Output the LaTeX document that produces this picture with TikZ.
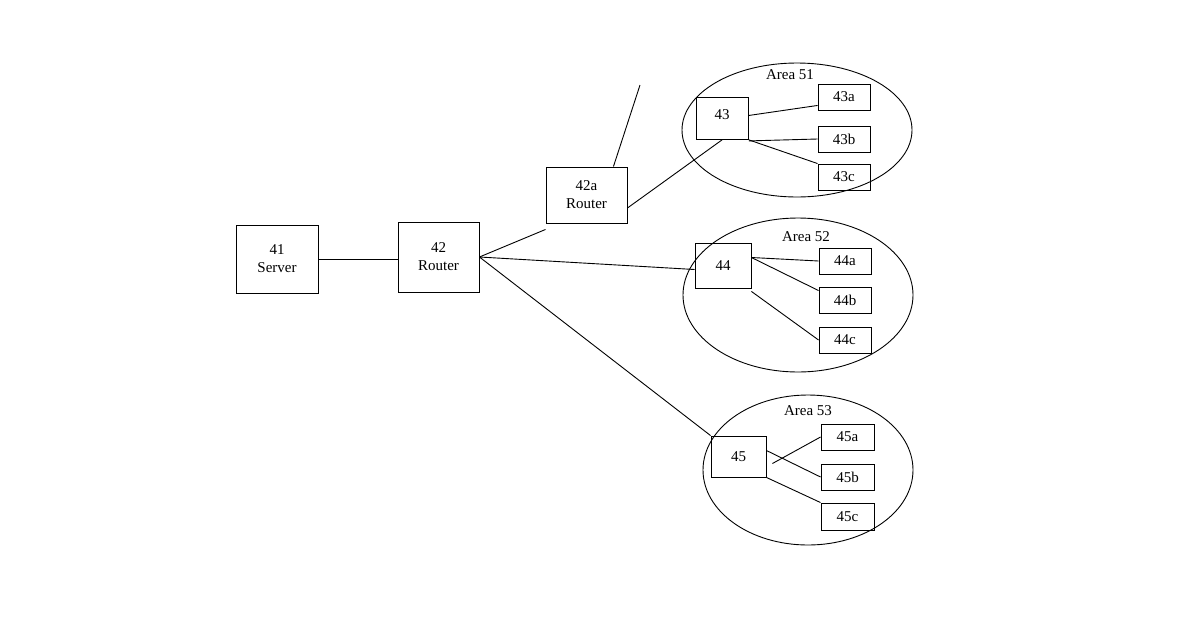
\documentclass[tikz,border=0pt]{standalone}
\usepackage{fontspec}
\setmainfont{Liberation Serif}
\usetikzlibrary{shapes.geometric}
\begin{document}
\begin{tikzpicture}[x=1pt,y=-1pt,
  box/.style={draw,line width=0.9pt,inner sep=0pt,align=center,font=\fontsize{15}{18}\selectfont},
  lbl/.style={font=\fontsize{15}{18}\selectfont},
  ln/.style={line width=0.9pt}]
\useasboundingbox (0,0) rectangle (1200,630);
\node[box,minimum width=82,minimum height=68] (s41) at (277,259) {41\\Server};
\node[box,minimum width=81,minimum height=70] (r42) at (438.5,257) {42\\Router};
\node[box,minimum width=81,minimum height=56] (r42a) at (586.5,195) {42a\\Router};
\coordinate (up) at (640,85);
% Area 51
\node[draw,ln,ellipse,minimum width=230,minimum height=134] (e51) at (797,130) {};
\node[lbl] (a51) at (790,75) {Area 51};
\node[box,minimum width=52,minimum height=42,anchor=north west] (n43) at (696,97) {};
\node[lbl] (t43) at (722,115) {43};
\node[box,minimum width=52,minimum height=26] (n43a) at (844,97) {43a};
\node[box,minimum width=52,minimum height=26] (n43b) at (844,139) {43b};
\node[box,minimum width=52,minimum height=26] (n43c) at (844,177) {43c};
% Area 52
\node[draw,ln,ellipse,minimum width=230,minimum height=154] (e52) at (798,295) {};
\node[lbl] (a52) at (806,237) {Area 52};
\node[box,minimum width=56,minimum height=45] (n44) at (723,265.5) {44};
\node[box,minimum width=52,minimum height=26] (n44a) at (845,261) {44a};
\node[box,minimum width=52,minimum height=26] (n44b) at (845,300) {44b};
\node[box,minimum width=52,minimum height=26] (n44c) at (845,340) {44c};
% Area 53
\node[draw,ln,ellipse,minimum width=210,minimum height=150] (e53) at (808,470) {};
\node[lbl] (a53) at (808,411) {Area 53};
\node[box,minimum width=55,minimum height=41] (n45) at (738.5,456.5) {45};
\node[box,minimum width=53,minimum height=26] (n45a) at (847.5,437) {45a};
\node[box,minimum width=53,minimum height=26] (n45b) at (847.5,477) {45b};
\node[box,minimum width=53,minimum height=27] (n45c) at (847.5,516.5) {45c};
% connectors
\draw[ln] (s41.east) -- (r42.west|-s41.east);
\draw[ln] (r42.east) -- ([yshift=-6]r42a.south west);
\draw[ln] ([xshift=-14]r42a.north east) -- (up);
\draw[ln] ([yshift=-13]r42a.east) -- ([xshift=26]n43.south west);
\draw[ln] ([yshift=3]n43.east) -- ([yshift=5]n43a.south west);
\draw[ln] ([yshift=-1]n43.south east) -- (n43b.west);
\draw[ln] (n43.south east) -- (n43c.north west);
\draw[ln] (r42.east) -- ([yshift=-4]n44.west);
\draw[ln] ([yshift=8]n44.east) -- (n44a.west);
\draw[ln] ([yshift=8]n44.east) -- ([yshift=-4]n44b.north west);
\draw[ln] ([yshift=-3]n44.south east) -- (n44c.west);
\draw[ln] (r42.east) -- (n45.north west);
\draw[ln] ([xshift=6,yshift=-7]n45.east) -- (n45a.west);
\draw[ln] ([yshift=6]n45.east) -- (n45b.west);
\draw[ln] (n45.south east) -- (n45c.north west);
\end{tikzpicture}
\end{document}
